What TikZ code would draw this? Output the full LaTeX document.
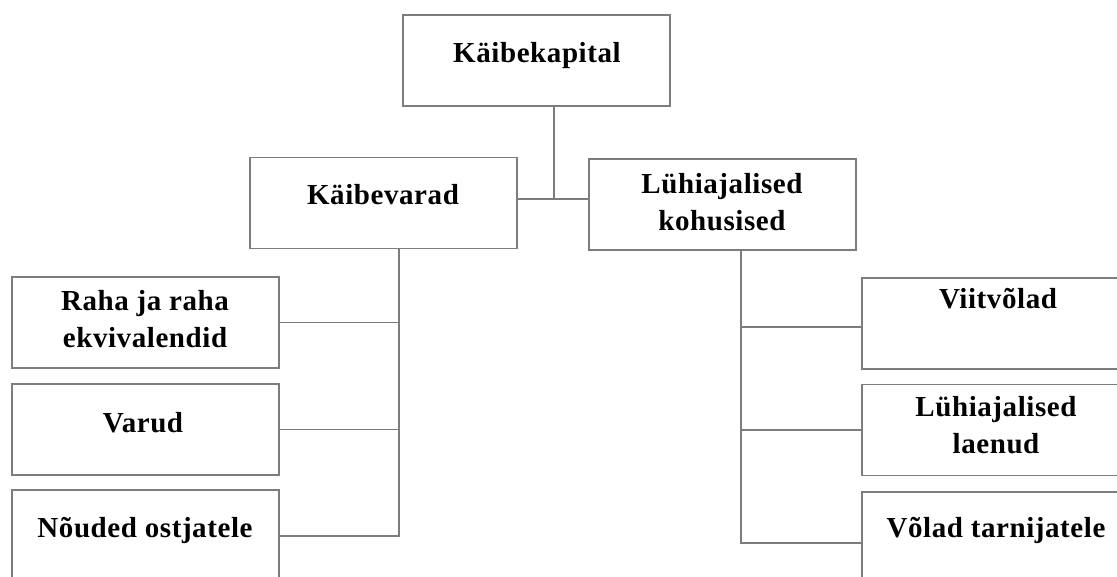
\documentclass[tikz,border=0pt]{standalone}
\usepackage{fontspec}
\setmainfont{Liberation Serif}[LetterSpace=2]
\definecolor{linegray}{RGB}{125,125,125}
\begin{document}
\begin{tikzpicture}[x=1pt,y=-1pt,
  boxnode/.style={draw=linegray, line width=1.6pt, rectangle, minimum width=267pt, minimum height=91pt, inner sep=0pt, outer sep=0pt, fill=white},
  lbl/.style={font=\fontsize{29}{37}\selectfont\bfseries, align=center, inner sep=0pt, text=black},
  conn/.style={draw=linegray, line width=1.6pt}]
\useasboundingbox (0,0) rectangle (1117,577);
\clip (0,0) rectangle (1117,577);
% boxes
\node[boxnode] (top) at (536.5,60.5) {};
\node[boxnode] (kv) at (383.5,203) {};
\node[boxnode] (lk) at (722.5,204.5) {};
\node[boxnode] (l1) at (145.5,322.5) {};
\node[boxnode] (l2) at (145.5,429.5) {};
\node[boxnode] (l3) at (145.5,535.5) {};
\node[boxnode] (r1) at (995.5,323.5) {};
\node[boxnode] (r2) at (995.5,430) {};
\node[boxnode] (r3) at (995.5,537.5) {};
% labels
\node[lbl, anchor=base] (ttop) at (537,63) {Käibekapital};
\node[lbl, anchor=base] (tkv) at (383,205) {Käibevarad};
\node[lbl] (tlk) at (722,202) {Lühiajalised\\kohusised};
\node[lbl] (tl1) at (145,319) {Raha ja raha\\ekvivalendid};
\node[lbl, anchor=base] (tl2) at (143,432) {Varud};
\node[lbl, anchor=base] (tr1) at (998,309) {Viitvõlad};
\node[lbl, anchor=base] (tl3) at (145,537) {Nõuded ostjatele};
\node[lbl] (tr2) at (996,425) {Lühiajalised\\laenud};
\node[lbl, anchor=base] (tr3) at (996,537) {Võlad tarnijatele};
% junction coordinates
\coordinate (jt) at (554,199);
\coordinate (jl) at (399,536);
\coordinate (jr) at (741,543);
% connectors
\draw[conn] (top.south -| jt) -- (jt);
\draw[conn] (kv.east |- jt) -- (lk.west |- jt);
\draw[conn] (kv.south -| jl) -- (jl) -- (l3.east |- jl);
\draw[conn] (l1.east) -- (l1.east -| jl);
\draw[conn] (l2.east) -- (l2.east -| jl);
\draw[conn] (lk.south -| jr) -- (jr) -- (r3.west |- jr);
\draw[conn] (r1.west |- 0,327) -- (jr |- 0,327);
\draw[conn] (r2.west) -- (r2.west -| jr);
\end{tikzpicture}
\end{document}
